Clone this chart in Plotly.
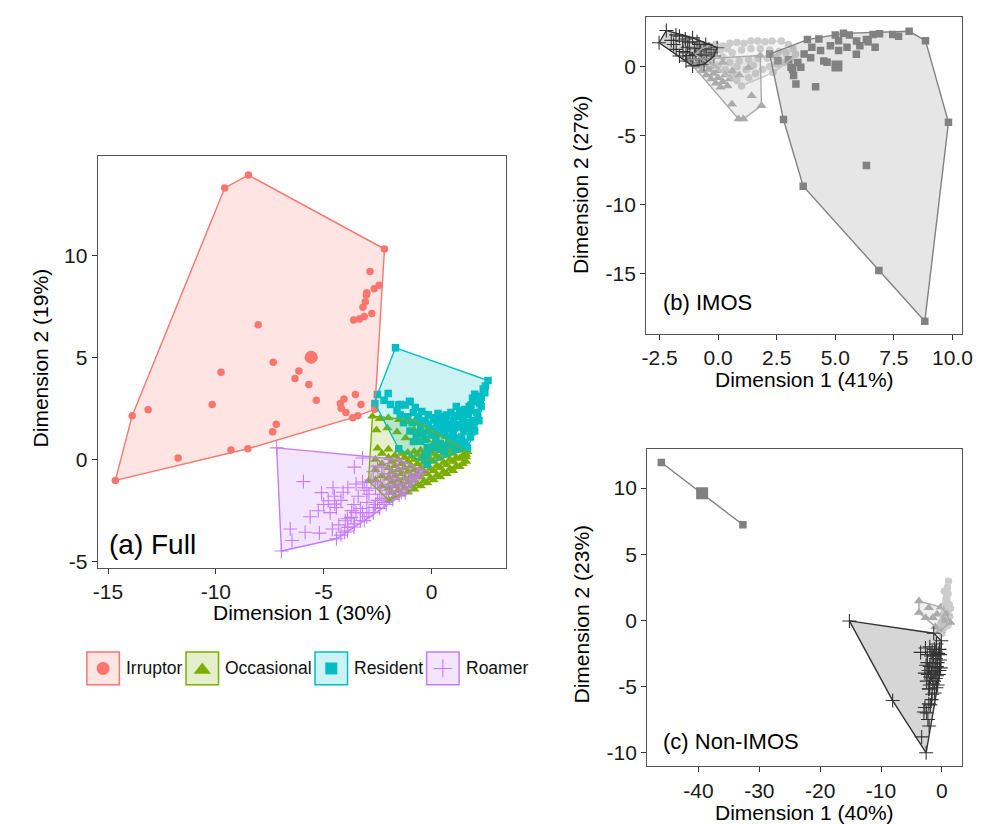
import plotly.graph_objects as go

GROUPS = ["Irruptor", "Occasional", "Resident", "Roamer"]
FULL_COLOURS = ["#F8766D", "#7CAE00", "#00BFC4", "#C77CFF"]
GREY_COLOURS = ["#CCCCCC", "#ABABAB", "#818181", "#333333"]
SYMBOLS = ["circle", "triangle-up", "square", "cross-thin"]

# ---------------- panel (a) Full ----------------
full_irruptor = [(-14.66, -1.02), (-13.88, 2.15), (-9.59, 13.30), (-8.49, 13.93), (-2.18, 10.31),
                 (-2.63, 2.46), (-3.65, 2.05), (-8.52, 0.53), (-9.30, 0.47), (-13.14, 2.44),
                 (-11.75, 0.08), (-10.17, 2.70), (-9.76, 4.27), (-8.04, 6.60), (-7.34, 4.77),
                 (-7.37, 1.36), (-7.20, 1.73), (-6.33, 3.97), (-6.15, 4.34), (-5.69, 3.67),
                 (-5.34, 2.91), (-4.23, 2.75), (-4.06, 2.96), (-4.19, 2.51), (-3.97, 2.30),
                 (-3.53, 3.19), (-3.27, 2.70), (-3.42, 2.15), (-2.85, 9.21), (-2.43, 8.53),
                 (-2.66, 8.37), (-3.00, 8.17), (-3.07, 7.73), (-3.18, 7.46), (-2.77, 7.15),
                 (-3.12, 7.01), (-3.35, 6.88), (-3.61, 6.84), (-3.02, 8.06)]
full_occasional = [(-2.74, 2.12), (-2.40, 2.00), (-2.00, 2.05), (-1.50, 1.95), (-1.00, 1.85),
                   (-0.76, 1.92), (-2.55, 1.45), (-2.05, 1.55), (-2.50, 0.55), (-2.00, 0.50),
                   (-1.60, 1.35), (-1.20, 1.05), (-0.80, 1.45), (-0.50, 1.20), (-0.20, 0.95),
                   (0.30, 1.22), (0.10, 0.80), (0.60, 0.65), (1.00, 0.50), (1.67, 0.38),
                   (1.60, 0.12), (-2.92, -1.05), (-1.98, -1.99),
                   (-2.60, -1.00), (-2.60, -0.50), (-2.60, 0.00),
                   (-2.30, -1.30), (-2.30, -0.80), (-2.30, -0.20), (-2.30, 0.30),
                   (-2.00, -1.40), (-2.00, -0.90), (-2.00, -0.40), (-2.00, 0.10),
                   (-1.70, -1.80), (-1.70, -1.30), (-1.70, -0.80), (-1.70, -0.30), (-1.70, 0.20),
                   (-1.40, -1.70), (-1.40, -1.20), (-1.40, -0.70), (-1.40, -0.20), (-1.40, 0.30),
                   (-1.10, -1.60), (-1.10, -1.10), (-1.10, -0.60), (-1.10, -0.10), (-1.10, 0.35),
                   (-0.80, -1.45), (-0.80, -1.00), (-0.80, -0.50), (-0.80, 0.00), (-0.80, 0.40),
                   (-0.50, -1.30), (-0.50, -0.85), (-0.50, -0.40), (-0.50, 0.05), (-0.50, 0.45),
                   (-0.20, -1.15), (-0.20, -0.70), (-0.20, -0.25), (-0.20, 0.20),
                   (0.10, -1.00), (0.10, -0.55), (0.10, -0.10), (0.10, 0.30),
                   (0.40, -0.85), (0.40, -0.40), (0.40, 0.05), (0.40, 0.45),
                   (0.70, -0.70), (0.70, -0.25), (0.70, 0.20), (0.70, 0.55),
                   (1.00, -0.55), (1.00, -0.10), (1.00, 0.30),
                   (1.30, -0.35), (1.30, 0.05), (1.30, 0.45), (1.60, -0.10), (1.60, 0.25),
                   (-1.85, -1.60), (-1.85, -1.10), (-1.85, -0.60), (-1.85, -0.10),
                   (-1.55, -1.50), (-1.55, -1.00), (-1.55, -0.50), (-1.55, 0.00),
                   (-1.25, -1.40), (-1.25, -0.90), (-1.25, -0.40), (-1.25, 0.10),
                   (-0.95, -1.30), (-0.95, -0.80), (-0.95, -0.30), (-0.95, 0.15),
                   (-0.65, -1.20), (-0.65, -0.70), (-0.65, -0.20), (-0.65, 0.25),
                   (-0.35, -1.05), (-0.35, -0.60), (-0.35, -0.15), (-0.35, 0.30),
                   (-0.05, -0.90), (-0.05, -0.45), (-0.05, 0.00), (-0.05, 0.40),
                   (0.25, -0.75), (0.25, -0.30), (0.25, 0.15), (0.55, -0.60), (0.55, -0.15),
                   (0.55, 0.30), (0.85, -0.45), (0.85, 0.00), (0.85, 0.40), (1.15, -0.30),
                   (1.15, 0.10), (1.15, 0.45), (1.45, -0.20), (1.45, 0.20)]
full_resident = [(-1.67, 5.47), (2.62, 3.87), (2.47, 3.27), (1.67, 0.57), (-0.20, -0.24),
                 (-1.52, 0.53), (-2.63, 2.75), (-2.51, 3.19), (-2.01, 3.24), (-1.45, 2.70),
                 (-1.02, 2.86), (-1.22, 2.67), (-1.52, 2.67), (-1.45, 2.18), (-0.99, 2.83),
                 (-0.84, 2.30), (-0.60, 2.10), (-0.30, 1.90), (0.08, 1.94), (0.30, 2.25),
                 (0.50, 2.10), (0.68, 2.18), (0.90, 2.30), (1.14, 2.10), (1.30, 2.40),
                 (1.45, 2.18), (1.75, 2.60), (1.83, 2.67), (2.05, 2.83), (2.20, 3.10),
                 (2.40, 3.45), (2.30, 2.60), (1.90, 3.00), (-1.90, 2.70), (-2.20, 2.90),
                 (-1.30, 1.80), (-1.00, 1.40), (-0.70, 1.30), (-0.50, 1.60), (-0.15, 1.70),
                 (0.30, 1.50), (0.80, 1.70), (1.20, 1.70), (1.60, 1.80), (1.90, 1.90),
                 (2.10, 2.30), (1.50, 1.40), (1.00, 1.30), (0.60, 1.20), (0.00, 1.20),
                 (-0.30, 1.00), (2.00, 1.40), (1.80, 1.10), (1.30, 0.90), (0.80, 0.90),
                 (0.20, 0.90), (-0.50, 0.90), (-0.84, 0.89), (-0.20, 0.60), (0.40, 0.50),
                 (1.10, 0.50), (1.60, 0.60), (-0.31, 0.16), (0.60, 0.40), (1.40, 1.10),
                 (0.40, 1.90), (-0.90, 1.80), (1.70, 2.20), (2.20, 1.90), (0.10, 1.50),
                 (1.00, 1.90), (-0.75, 2.55), (-0.45, 2.35), (-0.15, 2.20), (0.15, 2.05),
                 (0.45, 1.75), (0.75, 1.50), (1.05, 1.55), (1.35, 1.60), (1.65, 1.55),
                 (1.95, 1.65), (2.15, 2.05), (2.25, 2.75), (1.55, 2.45), (1.05, 2.15),
                 (0.65, 1.95), (0.25, 1.75), (-0.10, 1.40), (-0.40, 1.30), (-0.70, 1.05),
                 (-1.10, 2.10), (-1.60, 2.40), (-0.20, 0.30), (0.10, 0.60), (0.40, 0.80),
                 (0.70, 0.70), (1.00, 0.75), (1.30, 0.65), (1.55, 0.85), (1.85, 1.35),
                 (2.30, 3.05), (2.50, 3.60), (2.00, 3.20), (1.20, 1.05), (0.90, 1.10),
                 (0.50, 1.45), (0.20, 1.20), (-0.60, 1.85), (1.45, 1.95), (1.80, 2.40),
                 (1.15, 2.60)]
full_roamer = [(-7.18, 0.57), (-6.96, -4.48), (-4.41, -3.88), (-3.12, -2.99), (-1.22, -1.62),
               (-0.41, -0.53), (-1.52, 0.00), (-5.94, -1.08), (-3.58, -0.37), (-3.20, 0.08),
               (-6.55, -3.40), (-6.47, -3.96), (-5.86, -3.56), (-5.63, -2.80), (-5.25, -2.51),
               (-5.10, -1.62), (-4.57, -1.38), (-4.49, -2.18), (-4.41, -2.35), (-3.73, -2.83),
               (-3.88, -3.32), (-4.03, -3.56), (-3.58, -3.15), (-3.12, -1.38), (-2.90, -1.70),
               (-2.66, -2.35), (-2.50, -2.00), (-2.36, -1.21), (-2.10, -1.50), (-1.75, -0.89),
               (-1.50, -1.20), (-2.51, -0.32), (-2.20, -0.70), (-3.88, -1.38), (-4.10, -1.60),
               (-4.79, -2.02), (-5.00, -2.20), (-4.70, -2.60), (-4.20, -2.00), (-3.40, -1.80),
               (-3.30, -2.40), (-3.00, -2.10), (-2.80, -1.00), (-2.40, -1.70), (-2.00, -1.00),
               (-1.80, -1.60), (-1.30, -0.90), (-1.00, -0.70), (-0.80, -0.90), (-1.60, -0.50),
               (-2.00, -0.20), (-2.70, -0.60), (-3.50, -2.60), (-4.30, -3.20), (-3.90, -2.90),
               (-2.90, -2.60), (-3.00, -1.50), (-2.20, -2.10), (-1.40, -1.60), (-2.60, -1.40),
               (-1.90, -1.30), (-2.30, -0.40), (-1.20, -1.20), (-3.20, -1.10), (-3.60, -2.20),
               (-4.20, -3.70), (-3.90, -3.50), (-3.60, -3.30), (-3.30, -3.00), (-3.00, -2.80),
               (-2.70, -2.60), (-2.40, -2.40), (-2.10, -2.20), (-1.80, -1.95), (-1.50, -1.75),
               (-1.20, -1.45), (-0.90, -1.10), (-0.70, -0.85), (-0.55, -0.70), (-1.00, -1.00),
               (-1.60, -1.30), (-2.00, -1.70), (-2.30, -1.90), (-2.60, -2.20), (-3.20, -2.60),
               (-3.70, -2.50), (-4.00, -3.00), (-4.60, -3.40), (-5.20, -3.60), (-1.90, -0.70),
               (-1.30, -0.40), (-2.50, -1.10), (-3.50, -1.20), (-4.50, -1.80)]
full_centroid_irruptor = [(-5.58, 5.01)]

# ---------------- panel (b) IMOS ----------------
imos_irruptor = [(-1.00, 0.90), (-0.70, 1.30), (-0.40, 1.50), (-0.10, 1.60), (0.20, 1.50),
                 (0.50, 1.70), (0.80, 1.75), (1.10, 1.70), (1.40, 1.85), (1.70, 1.85),
                 (2.00, 1.80), (2.30, 1.85), (2.70, 1.85), (3.00, 1.60), (3.20, 1.30),
                 (3.30, 0.90), (3.10, 0.50), (2.80, 0.30), (2.50, 0.20), (2.20, 0.00),
                 (1.90, -0.20), (1.60, -0.50), (1.30, -0.80), (1.00, -1.40), (0.80, -1.00),
                 (0.60, -0.55), (0.30, -0.20), (0.00, 0.10), (-0.30, 0.40), (-0.60, 0.60),
                 (0.20, 0.70), (0.60, 1.00), (1.00, 1.20), (1.40, 1.30), (1.80, 1.30),
                 (2.20, 1.20), (2.60, 1.10), (2.90, 1.00), (0.50, 0.30), (0.90, 0.40),
                 (1.30, 0.50), (1.70, 0.60), (2.10, 0.60), (2.50, 0.70), (1.20, -0.20),
                 (0.80, 0.00), (2.34, -0.43), (1.50, 0.10), (-0.20, 1.00), (0.10, 1.20),
                 (0.40, 1.30)]
imos_occasional = [(-1.30, 0.50), (-1.10, 0.20), (-0.90, 0.00), (-0.70, -0.30), (-0.50, -0.60),
                   (-0.30, -0.90), (-0.10, -1.20), (0.10, -1.50), (-0.80, 0.40), (-0.60, 0.10),
                   (-0.40, -0.20), (-0.20, -0.50), (0.00, -0.80), (0.20, -1.10), (0.40, -1.40),
                   (-0.40, 0.30), (-0.20, 0.00), (0.00, -0.30), (0.30, -0.60), (0.50, -0.90),
                   (0.60, -0.30), (0.90, -0.60), (1.29, -0.07), (1.43, -2.11), (0.59, -2.72),
                   (0.87, -3.80), (1.08, -3.80), (1.85, -2.83), (1.80, 0.80), (0.20, 0.30)]
imos_resident = [(2.20, 0.91), (3.81, 1.96), (5.35, 2.41), (8.15, 2.56), (8.85, 1.88),
                 (9.83, -4.04), (8.82, -18.46), (6.86, -14.78), (3.63, -8.67), (2.79, -3.84),
                 (6.33, -7.17), (3.32, -1.26), (4.16, -1.45), (3.22, -0.65), (3.53, -0.05),
                 (4.65, 0.31), (3.67, 0.91), (4.37, 1.16), (4.79, 1.52), (5.14, 1.88),
                 (5.14, 1.16), (6.05, 1.52), (2.55, 0.43), (3.11, -0.05), (5.60, 2.30),
                 (6.61, 2.33), (6.89, 2.38), (7.45, 2.33), (5.91, 1.85), (6.33, 1.97),
                 (4.51, 0.41), (3.95, 0.65), (3.18, -0.19), (4.00, 1.40), (5.90, 0.90),
                 (4.30, 2.00), (3.00, 0.50), (6.70, 1.40), (5.00, 2.30), (3.40, 0.30),
                 (5.50, 1.40), (7.70, 2.20), (6.40, 1.80)]
imos_roamer = [(-2.52, 1.73), (-2.21, 2.62), (-0.04, 1.37), (-0.18, 0.77), (-0.60, 0.17),
               (-1.09, 0.05), (-1.65, 2.21), (-1.51, 1.85), (-1.23, 1.73), (-1.09, 2.09),
               (-0.81, 1.61), (-0.53, 1.61), (-0.39, 1.25), (-0.74, 1.13), (-0.95, 0.89),
               (-1.37, 1.01), (-1.79, 1.25), (-1.65, 0.77), (-1.37, 0.41), (-1.09, 0.53),
               (-0.81, 0.53), (-0.50, 0.90), (-1.90, 1.60), (-2.00, 1.90), (-1.30, 1.40),
               (-1.00, 1.30), (-0.70, 0.80), (-1.50, 1.10), (-1.20, 0.80), (-0.30, 1.00),
               (-1.80, 2.30), (-1.40, 2.00), (-0.90, 1.80), (-0.60, 1.30)]
imos_centroid_resident = [(5.07, 0.05)]

# ---------------- panel (c) Non-IMOS ----------------
nonimos_irruptor = [(1.08, 2.96), (0.90, 2.50), (1.00, 2.00), (0.70, 1.60), (1.20, 1.20),
                    (0.50, 1.00), (0.90, 0.60), (0.20, 0.40), (1.30, 0.30), (0.60, 0.00),
                    (-0.20, -0.30), (0.30, -0.60), (1.00, -0.40), (-0.50, -0.80), (0.00, -1.00),
                    (1.40, 0.90), (0.40, 2.20), (0.80, 1.20)]
nonimos_occasional = [(-3.77, 1.45), (-3.77, 0.58), (-2.15, 0.95), (-2.69, 0.20), (-0.80, 0.45),
                      (0.54, -0.05), (0.80, 0.50), (-0.27, -0.80), (-1.10, -0.50), (-0.16, 1.00),
                      (1.36, -0.17), (-1.50, 0.20), (0.20, 0.10)]
nonimos_resident = [(-46.10, 11.93), (-32.70, 7.22)]
nonimos_roamer = [(-15.20, -0.05), (-1.34, -0.98), (-0.10, -1.55), (-2.59, -10.02),
                  (-3.50, -2.43), (-8.09, -6.07), (-3.33, -8.82), (-2.15, -6.32), (-2.96, -6.94),
                  (-2.15, -5.19), (-2.00, -2.00), (-1.20, -2.20), (-0.60, -2.50), (-1.80, -2.70),
                  (-1.00, -2.90), (-0.30, -3.00), (-2.40, -3.20), (-1.50, -3.30), (-0.80, -3.50),
                  (-0.20, -3.60), (-2.20, -3.80), (-1.30, -3.90), (-0.50, -4.10), (-1.90, -4.30),
                  (-1.00, -4.40), (-2.50, -4.60), (-1.50, -4.80), (-0.70, -4.90), (-2.10, -5.20),
                  (-1.20, -5.50), (-2.60, -3.40), (-1.60, -2.40), (-0.90, -1.80), (-0.40, -2.20),
                  (-2.80, -4.00), (-1.70, -6.00), (-2.30, -7.50), (-2.80, -6.60),
                  (-2.40, -2.60), (-1.40, -2.70), (-0.70, -3.20), (-2.00, -3.50), (-1.10, -3.60),
                  (-0.40, -3.80), (-1.70, -4.00), (-0.80, -4.20), (-2.30, -4.10), (-1.30, -4.60),
                  (-2.00, -4.90), (-0.90, -5.10), (-1.60, -5.60), (-1.90, -6.40), (-2.50, -7.00),
                  (-2.10, -8.00), (-1.00, -2.40), (-2.70, -2.10), (-0.30, -2.60)]
nonimos_centroid_resident = [(-39.40, 9.60)]

PANEL_LABELS = ["(a) Full", "(b) IMOS", "(c) Non-IMOS"]
X_TITLES = ["Dimension 1 (30%)", "Dimension 1 (41%)", "Dimension 1 (40%)"]
Y_TITLES = ["Dimension 2 (19%)", "Dimension 2 (27%)", "Dimension 2 (23%)"]
A_XTICKS = [-15, -10, -5, 0]
A_YTICKS = [-5, 0, 5, 10]
B_XTICKS = [-2.5, 0.0, 2.5, 5.0, 7.5, 10.0]
B_YTICKS = [-15, -10, -5, 0]
C_XTICKS = [-40, -30, -20, -10, 0]
C_YTICKS = [-10, -5, 0, 5, 10]

FONT = "Liberation Sans, Arial, Helvetica, sans-serif"
W, H = 983, 824


def rgba(hexc, a):
    h = hexc.lstrip("#")
    r, g, b = int(h[0:2], 16), int(h[2:4], 16), int(h[4:6], 16)
    return f"rgba({r},{g},{b},{a})"


def convex_hull(pts):
    p = sorted(set(pts))
    if len(p) <= 2:
        return p

    def cross(o, a, b):
        return (a[0] - o[0]) * (b[1] - o[1]) - (a[1] - o[1]) * (b[0] - o[0])

    lower = []
    for q in p:
        while len(lower) >= 2 and cross(lower[-2], lower[-1], q) <= 0:
            lower.pop()
        lower.append(q)
    upper = []
    for q in reversed(p):
        while len(upper) >= 2 and cross(upper[-2], upper[-1], q) <= 0:
            upper.pop()
        upper.append(q)
    return lower[:-1] + upper[:-1]


SIZES = [7.5, 9.0, 7.5, 10.0]

fig = go.Figure()


def marker_for(i, colour, size):
    if SYMBOLS[i] == "cross-thin":
        return dict(symbol="cross-thin", size=size, color=colour, line=dict(color=colour, width=1.1))
    return dict(symbol=SYMBOLS[i], size=size, color=colour, line=dict(width=0))


def add_panel(groups_data, colours, xa, ya, centroids):
    for i, pts in enumerate(groups_data):
        fig.add_trace(go.Scatter(x=[p[0] for p in pts], y=[p[1] for p in pts], mode="markers",
                                 marker=marker_for(i, colours[i], SIZES[i]), xaxis=xa, yaxis=ya,
                                 showlegend=False, hoverinfo="skip"))
    for gi, pts, size in centroids:
        fig.add_trace(go.Scatter(x=[p[0] for p in pts], y=[p[1] for p in pts], mode="markers",
                                 marker=marker_for(gi, colours[gi], size), xaxis=xa, yaxis=ya,
                                 showlegend=False, hoverinfo="skip"))
    for i, pts in enumerate(groups_data):
        h = convex_hull(pts)
        hx = [p[0] for p in h] + [h[0][0]]
        hy = [p[1] for p in h] + [h[0][1]]
        fig.add_trace(go.Scatter(x=hx, y=hy, mode="lines", fill="toself",
                                 fillcolor=rgba(colours[i], 0.2),
                                 line=dict(color=colours[i], width=1.4),
                                 xaxis=xa, yaxis=ya, showlegend=False, hoverinfo="skip"))


add_panel([full_irruptor, full_occasional, full_resident, full_roamer], FULL_COLOURS, "x", "y",
          [(0, full_centroid_irruptor, 13)])
add_panel([imos_irruptor, imos_occasional, imos_resident, imos_roamer], GREY_COLOURS, "x2", "y2",
          [(2, imos_centroid_resident, 11)])
add_panel([nonimos_irruptor, nonimos_occasional, nonimos_resident, nonimos_roamer], GREY_COLOURS,
          "x3", "y3", [(2, nonimos_centroid_resident, 12)])

# ---------------- legend (drawn on a transparent pixel overlay axis) ----------------
KEY_LEFT = [75, 175.7, 306.7, 420]
KEY_SIZE = 33
KEY_TOP = 648
LEGEND_SIZES = [13, 15, 12, 13]
shapes = []
annotations = []
for i, g in enumerate(GROUPS):
    x0 = KEY_LEFT[i]
    shapes.append(dict(type="rect", xref="x4", yref="y4", x0=x0, x1=x0 + KEY_SIZE, y0=KEY_TOP,
                       y1=KEY_TOP + KEY_SIZE, fillcolor=rgba(FULL_COLOURS[i], 0.2),
                       line=dict(color=FULL_COLOURS[i], width=1.5), layer="below"))
    fig.add_trace(go.Scatter(x=[x0 + KEY_SIZE / 2], y=[KEY_TOP + KEY_SIZE / 2 + (1.5 if i == 1 else 0)],
                             mode="markers", marker=marker_for(i, FULL_COLOURS[i], LEGEND_SIZES[i]),
                             xaxis="x4", yaxis="y4", showlegend=False, hoverinfo="skip"))
    annotations.append(dict(text=g, xref="x4", yref="y4", x=x0 + KEY_SIZE + 5, y=KEY_TOP + KEY_SIZE / 2,
                            xanchor="left", yanchor="middle", showarrow=False,
                            font=dict(family=FONT, size=17.5, color="#111111")))

# panel labels
annotations.append(dict(text=PANEL_LABELS[0], xref="x", yref="y", x=-15.05, y=-4.15, xanchor="left",
                        yanchor="middle", showarrow=False, font=dict(family=FONT, size=28, color="#000")))
annotations.append(dict(text=PANEL_LABELS[1], xref="x2", yref="y2", x=-2.45, y=-17.1, xanchor="left",
                        yanchor="middle", showarrow=False, font=dict(family=FONT, size=22, color="#000")))
annotations.append(dict(text=PANEL_LABELS[2], xref="x3", yref="y3", x=-46.1, y=-9.2, xanchor="left",
                        yanchor="middle", showarrow=False, font=dict(family=FONT, size=22, color="#000")))

# axis titles (pixel positions)
TITLE_POS = [((293.5, 608), (28, 352)), ((803.5, 374), (577, 178)), ((804, 809), (577, 610))]
for k in range(3):
    (xt, yt), (xy, yy) = TITLE_POS[k]
    annotations.append(dict(text=X_TITLES[k], xref="paper", yref="paper", x=xt / W, y=1 - yt / H,
                            xanchor="center", yanchor="middle", showarrow=False,
                            font=dict(family=FONT, size=21, color="#000")))
    annotations.append(dict(text=Y_TITLES[k], xref="paper", yref="paper", x=xy / W, y=1 - yy / H,
                            xanchor="center", yanchor="middle", showarrow=False, textangle=-90,
                            font=dict(family=FONT, size=21, color="#000")))


def fmt(v, dec=0):
    return f"{v:.{dec}f}"


def axis(domain, rng, ticks, anchor, dec=0):
    return dict(domain=domain, range=rng, tickvals=ticks, ticktext=[fmt(t, dec) for t in ticks],
                anchor=anchor, showgrid=False, zeroline=False, showline=True, mirror=True,
                linecolor="#555555", linewidth=1.2, ticks="outside", ticklen=5, tickwidth=1,
                tickcolor="#333333", tickfont=dict(family=FONT, size=21, color="#1a1a1a"))


fig.update_layout(
    width=W, height=H, margin=dict(l=0, r=0, t=0, b=0),
    paper_bgcolor="white", plot_bgcolor="rgba(0,0,0,0)", showlegend=False,
    xaxis=axis([86 / W, 501 / W], [-15.48, 3.47], A_XTICKS, "y"),
    yaxis=axis([1 - 563 / H, 1 - 149 / H], [-5.29, 14.86], A_YTICKS, "x"),
    xaxis2=axis([643 / W, 964 / W], [-3.07, 10.42], B_XTICKS, "y2", dec=1),
    yaxis2=axis([1 - 328 / H, 1 - 9 / H], [-19.38, 3.60], B_YTICKS, "x2"),
    xaxis3=axis([644 / W, 964 / W], [-48.43, 3.35], C_XTICKS, "y3"),
    yaxis3=axis([1 - 763 / H, 1 - 444 / H], [-11.05, 12.93], C_YTICKS, "x3"),
    xaxis4=dict(domain=[0, 1], range=[0, W], visible=False, anchor="y4", fixedrange=True),
    yaxis4=dict(domain=[0, 1], range=[H, 0], visible=False, anchor="x4", fixedrange=True),
    shapes=shapes, annotations=annotations,
    font=dict(family=FONT),
)

fig.write_html("out.html")
